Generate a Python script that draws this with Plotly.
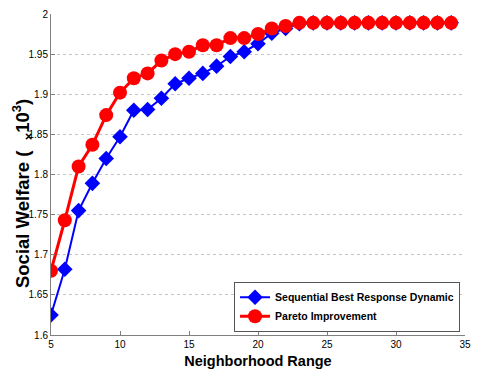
import plotly.graph_objects as go

# Neighborhood range values
neighborhood = list(range(5, 35))

# Social welfare (x10^3) for each dynamic
best_response = [1.625, 1.682, 1.755, 1.789, 1.820, 1.847, 1.880, 1.881, 1.895, 1.913,
                 1.920, 1.926, 1.935, 1.947, 1.953, 1.963, 1.976, 1.982, 1.988, 1.989,
                 1.989, 1.989, 1.989, 1.989, 1.989, 1.989, 1.989, 1.989, 1.989, 1.989]
pareto = [1.680, 1.743, 1.810, 1.837, 1.874, 1.902, 1.920, 1.926, 1.942, 1.950,
          1.953, 1.961, 1.961, 1.970, 1.970, 1.975, 1.982, 1.985, 1.989, 1.989,
          1.989, 1.989, 1.989, 1.989, 1.989, 1.989, 1.989, 1.989, 1.989, 1.989]

x_ticks = [5, 10, 15, 20, 25, 30, 35]
y_ticks = [1.6, 1.65, 1.7, 1.75, 1.8, 1.85, 1.9, 1.95, 2.0]
y_tick_text = ["1.6", "1.65", "1.7", "1.75", "1.8", "1.85", "1.9", "1.95", "2"]

FONT = "Liberation Sans, Arial, sans-serif"

fig = go.Figure()
fig.add_trace(go.Scatter(
    x=neighborhood, y=best_response, mode="lines+markers",
    name="<b>Sequential Best Response Dynamic</b>",
    line=dict(color="#0000ff", width=2),
    marker=dict(symbol="diamond", size=12, color="#0000ff"),
))
fig.add_trace(go.Scatter(
    x=neighborhood, y=pareto, mode="lines+markers",
    name="<b>Pareto Improvement</b>",
    line=dict(color="#ff0000", width=3),
    marker=dict(symbol="circle", size=14, color="#ff0000"),
))

fig.update_layout(
    width=479, height=374,
    margin=dict(l=51, r=10, t=8, b=37),
    paper_bgcolor="white", plot_bgcolor="white",
    font=dict(family=FONT, size=10, color="#000000"),
    showlegend=True,
    legend=dict(
        x=0.988, y=0.01, xanchor="right", yanchor="bottom",
        bgcolor="white", bordercolor="#555555", borderwidth=1,
        font=dict(family=FONT, size=10.5, color="#000000"),
        tracegroupgap=0, itemwidth=30,
    ),
)

fig.update_xaxes(
    range=[5, 35], tickvals=x_ticks, ticks="inside", ticklen=4,
    tickcolor="#808080", showline=True, linecolor="#808080", linewidth=1,
    showgrid=False, zeroline=False,
    tickfont=dict(size=10, color="#000000"),
    title=dict(text="<b>Neighborhood Range</b>", font=dict(size=14.5), standoff=6),
)
fig.update_yaxes(
    range=[1.6, 2.0], tickvals=y_ticks, ticktext=y_tick_text,
    ticks="inside", ticklen=4, tickcolor="#808080",
    showline=True, linecolor="#808080", linewidth=1,
    showgrid=True, gridcolor="#c4c4c4", griddash="dot", gridwidth=1,
    zeroline=False, tickfont=dict(size=10, color="#000000"),
)

fig.add_annotation(
    text="<b>Social Welfare (  <sub>×</sub>10<sup>3</sup>)</b>",
    xref="paper", yref="paper", x=-28 / 418, y=0.44,
    xanchor="center", yanchor="middle", textangle=-90, showarrow=False,
    font=dict(family=FONT, size=18.5, color="#000000"),
)

fig.write_html("out.html")
